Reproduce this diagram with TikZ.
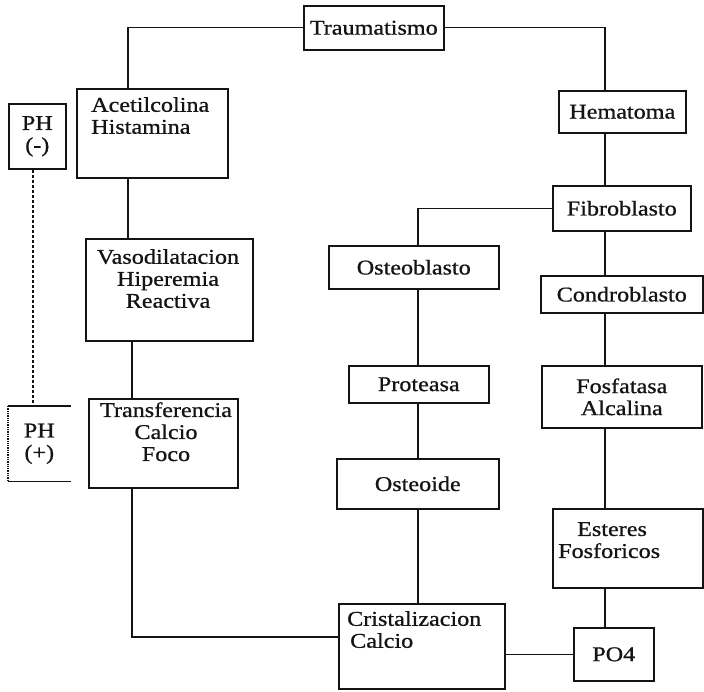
\documentclass[tikz,border=0pt]{standalone}
\usepackage{fontspec}
\setmainfont{Liberation Serif}[FakeStretch=1.15, FakeBold=0.8]
\usepackage{xcolor}
\usepackage{tikz}
\definecolor{InkBlack}{RGB}{20, 20, 20}
\tikzstyle{box} = [rectangle, anchor=north west, inner sep=0pt, align=center, draw=InkBlack, line width=1.6pt, font=\fontsize{21}{22}\selectfont, text=InkBlack]
\tikzstyle{boxtext} = [inner sep=0pt, font=\fontsize{21}{22}\selectfont, text=InkBlack]
\tikzstyle{link} = [draw=InkBlack, line width=1.3pt]
\usetikzlibrary{positioning}

\begin{document}
\begin{tikzpicture}[x=1pt, y=-1pt]
\useasboundingbox (0,0) rectangle (704,692);

% Columna PH
\node (ph1) [box, minimum width=57pt, minimum height=65pt] at (8,103) {PH\\(-)};
\node (ph2) [box, draw=none, minimum width=61pt, minimum height=74pt] at (8,406) {PH\\(+)};

% Columna izquierda
\node (trauma) [box, minimum width=140pt, minimum height=44pt] at (303,5) {Traumatismo};
\node (acetil) [box, minimum width=151pt, minimum height=89pt] at (76,88) {};
\node (vaso) [box, minimum width=167pt, minimum height=102pt] at (85,238) {};
\node (transf) [box, minimum width=149pt, minimum height=89pt] at (88,398) {};
\node (crist) [box, minimum width=166pt, minimum height=85pt] at (338,603) {};

\node (acetiltxt) [boxtext, anchor=north west, align=left] at (91,97) {Acetilcolina\\Histamina};
\node (vasotxt) [boxtext, anchor=north, align=center] at (168,249) {Vasodilatacion\\Hiperemia\\Reactiva};
\node (transftxt) [boxtext, anchor=north, align=center] at (166,402) {Transferencia\\Calcio\\Foco};
\node (cristtxt) [boxtext, anchor=north west, align=left] at (347,611) {Cristalizacion\\\hspace*{3pt}Calcio};

% Columna central
\node (osteob) [box, minimum width=170pt, minimum height=43pt] at (328,245) {Osteoblasto};
\node (protea) [box, minimum width=140pt, minimum height=37pt] at (348,365) {Proteasa};
\node (osteoi) [box, minimum width=162pt, minimum height=50pt] at (336,458) {Osteoide};

% Columna derecha
\node (hemat) [box, minimum width=127pt, minimum height=42pt] at (558,90) {Hematoma};
\node (fibro) [box, minimum width=138pt, minimum height=45pt] at (552,185) {Fibroblasto};
\node (condro) [box, minimum width=162pt, minimum height=37pt] at (540,275) {Condroblasto};
\node (fosfa) [box, minimum width=160pt, minimum height=62pt] at (541,365) {Fosfatasa\\Alcalina};
\node (ester) [box, minimum width=150pt, minimum height=79pt] at (552,508) {};
\node (po4) [box, minimum width=80pt, minimum height=53pt] at (573,627) {PO4};

\node (estertxt) [boxtext, anchor=north west, align=left] at (558,522) {\hspace*{19pt}Esteres\\Fosforicos};

% Ejes de las lineas
\coordinate (xp) at (33,0);
\coordinate (xa) at (128,0);
\coordinate (xb) at (132,0);
\coordinate (xm) at (418,0);
\coordinate (xr) at (605,0);
\coordinate (yc) at (0,637);

% Lineas
\draw [link] (trauma.west) -| (xa |- acetil.north);
\draw [link] (trauma.east) -| (xr |- hemat.north);
\draw [link] (xa |- acetil.south) -- (xa |- vaso.north);
\draw [link] (xb |- vaso.south) -- (xb |- transf.north);
\draw [link] (xb |- transf.south) |- (crist.west |- yc);
\draw [link] (xr |- hemat.south) -- (xr |- fibro.north);
\draw [link] (fibro.west) -| (xm |- osteob.north);
\draw [link] (xr |- fibro.south) -- (xr |- condro.north);
\draw [link] (xr |- condro.south) -- (xr |- fosfa.north);
\draw [link] (xr |- fosfa.south) -- (xr |- ester.north);
\draw [link] (xr |- ester.south) -- (xr |- po4.north);
\draw [link] (xm |- osteob.south) -- (xm |- protea.north);
\draw [link] (xm |- protea.south) -- (xm |- osteoi.north);
\draw [link] (xm |- osteoi.south) -- (xm |- crist.north);
\draw [link] (po4.west) -- (crist.east |- po4.west);
\draw [link, densely dashed] (xp |- ph1.south) -- (xp |- ph2.north);

% Caja PH (+) abierta
\draw [link, line width=1.6pt] (ph2.north east) -- (ph2.north west);
\draw [link, densely dotted] (ph2.north west) -- (ph2.south west);
\draw [link, line width=1.6pt] (ph2.south west) -- (ph2.south east);

\end{tikzpicture}
\end{document}
